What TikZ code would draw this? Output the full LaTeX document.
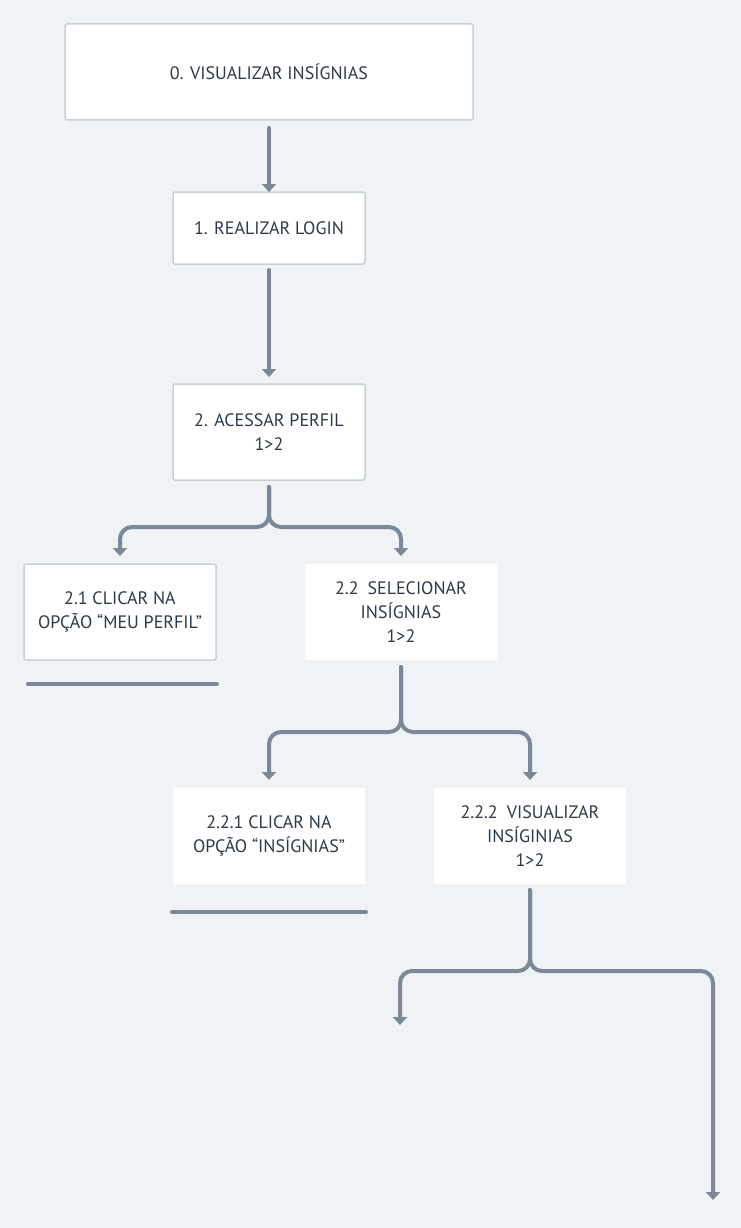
\documentclass[tikz,border=0pt]{standalone}
\usepackage{fontspec}
\setmainfont{PT Sans}
\usepackage{tikz}
\usetikzlibrary{positioning, arrows.meta, calc}

\definecolor{fundo}{HTML}{EFF3F6}
\definecolor{borda}{HTML}{C5D1DB}
\definecolor{seta}{HTML}{7A8897}
\definecolor{texto}{HTML}{2E3A46}

\begin{document}
\begin{tikzpicture}[x=1pt, y=1pt,
  caixa/.style={draw=borda, line width=1.5pt, fill=white, rounded corners=2pt, minimum width=192pt, minimum height=96pt, inner sep=0pt, outer sep=0pt, align=center, text=texto, font=\fontsize{18}{24}\selectfont},
  solta/.style={caixa, draw=none},
  fluxo/.style={draw=seta, line width=4pt, line cap=round, rounded corners=12pt, -{Triangle[width=14pt, length=8pt]}},
  traco/.style={draw=seta, line width=4pt, line cap=round}]
  \useasboundingbox[fill=fundo] (0,0) rectangle (741,-1228);
  \node[caixa, minimum width=408pt] (inicio) at (269,-72) {0. VISUALIZAR INSÍGNIAS};
  \node[caixa, minimum height=72pt] (login) [below=72pt of inicio] {1. REALIZAR LOGIN};
  \node[caixa] (perfil) [below=120pt of login] {2. ACESSAR PERFIL\\1>2};
  \node[caixa] (meuperfil) [below=84pt of perfil, xshift=-149pt] {2.1 CLICAR NA\\OPÇÃO “MEU PERFIL”};
  \node[solta] (selecionar) [below=84pt of perfil, xshift=132pt] {2.2\enspace SELECIONAR\\INSÍGNIAS\\1>2};
  \node[solta] (opcao) [below=128pt of selecionar, xshift=-132pt] {2.2.1 CLICAR NA\\OPÇÃO “INSÍGNIAS”};
  \node[solta] (visualizar) [below=128pt of selecionar, xshift=129pt] {2.2.2\enspace VISUALIZAR\\INSÍGINIAS\\1>2};
  \coordinate (saidaesq) at (400,-1025);
  \coordinate (saidadir) at (713,-1200);

  \draw[fluxo] ([yshift=-8pt]inicio.south) -- (login.north);
  \draw[fluxo] ([yshift=-6pt]login.south) -- ([yshift=7pt]perfil.north);
  \draw[fluxo] ([yshift=-7pt]perfil.south) -- ++(0,-40) -| ([yshift=8pt]meuperfil.north);
  \draw[fluxo] ([yshift=-7pt]perfil.south) -- ++(0,-40) -| ([yshift=8pt]selecionar.north);
  \draw[fluxo] ([yshift=-7pt]selecionar.south) -- ++(0,-65) -| ([yshift=8pt]opcao.north);
  \draw[fluxo] ([yshift=-7pt]selecionar.south) -- ++(0,-65) -| ([yshift=8pt]visualizar.north);
  \draw[fluxo] ([yshift=-6pt]visualizar.south) -- ++(0,-81) -| (saidaesq);
  \draw[fluxo] ([yshift=-6pt]visualizar.south) -- ++(0,-81) -| (saidadir);

  % linhas sob os passos finais
  \draw[traco] ([shift={(4,-24)}]meuperfil.south west) -- ([shift={(1,-24)}]meuperfil.south east);
  \draw[traco] ([shift={(-1,-28)}]opcao.south west) -- ([shift={(1,-28)}]opcao.south east);
\end{tikzpicture}
\end{document}
